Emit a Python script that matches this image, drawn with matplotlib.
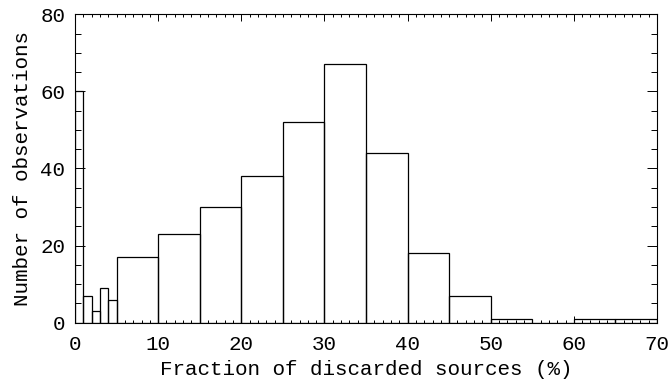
import matplotlib
matplotlib.use("Agg")
import matplotlib.pyplot as plt
from matplotlib.ticker import MultipleLocator

# bin edges and counts
bin_edges = [0, 1, 2, 3, 4, 5, 10, 15, 20, 25, 30, 35, 40, 45, 50, 55, 60, 65, 70]
counts = [60, 7, 3, 9, 6, 17, 23, 30, 38, 52, 67, 44, 18, 7, 1, 0, 1, 1]

plt.rcParams['font.family'] = ['Liberation Mono', 'DejaVu Sans Mono']
fig = plt.figure(figsize=(6.7, 3.81), dpi=100)
ax = fig.add_axes([0.112, 0.153, 0.8686, 0.8095])

lefts = bin_edges[:-1]
widths = [b - a for a, b in zip(bin_edges[:-1], bin_edges[1:])]
ax.bar(lefts, counts, width=widths, align='edge', facecolor='none',
       edgecolor='black', linewidth=0.9)

ax.set_xlim(0, 70)
ax.set_ylim(0, 80)
ax.xaxis.set_major_locator(MultipleLocator(10))
ax.xaxis.set_minor_locator(MultipleLocator(1))
ax.yaxis.set_major_locator(MultipleLocator(20))
ax.yaxis.set_minor_locator(MultipleLocator(5))
ax.tick_params(which='both', direction='in', top=True, right=True, width=0.7,
               labelsize=15, colors='black')
ax.tick_params(axis='x', which='major', length=5)
ax.tick_params(axis='x', which='minor', length=2.2)
ax.tick_params(axis='y', which='major', length=7.5)
ax.tick_params(axis='y', which='minor', length=4)
ax.tick_params(axis='x', pad=9)
ax.tick_params(axis='y', pad=7)
for s in ax.spines.values():
    s.set_linewidth(0.8)

ax.set_xlabel('Fraction of discarded sources (%)', fontsize=15, labelpad=4)
ax.set_ylabel('Number of observations', fontsize=15, labelpad=6)

fig.savefig('out.png', dpi=100)
